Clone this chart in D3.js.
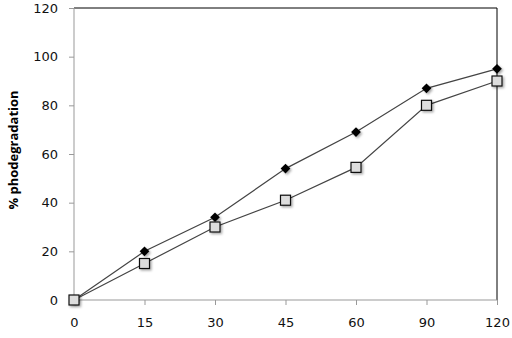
<!DOCTYPE html>
<html>
<head>
<meta charset="utf-8">
<script src="https://cdn.jsdelivr.net/npm/d3@7"></script>
<style>
	body { margin: 0; background: #fff; }
	text { font-family: 'DejaVu Sans', sans-serif; }
</style>
</head>
<body>
<svg id="chart" width="512" height="338"></svg>
<script>
const times = ['0', '15', '30', '45', '60', '90', '120']
const diamondSeries = [0, 20, 34, 54, 69, 87, 95]
const squareSeries = [0, 15, 30, 41, 54.5, 80, 90]
const yTicks = [0, 20, 40, 60, 80, 100, 120]

const margin = { top: 8, right: 15, bottom: 38, left: 74 }
const width = 512 - margin.left - margin.right
const height = 338 - margin.top - margin.bottom

const svg = d3.select('#chart')
const g = svg.append('g')
	.attr('transform', `translate(${margin.left},${margin.top})`)

const x = d3.scalePoint()
	.domain(times)
	.range([0, width])
	.padding(0)

const y = d3.scaleLinear()
	.domain([0, 120])
	.range([height, 0])

// shadow for markers
const defs = svg.append('defs')
const f = defs.append('filter').attr('id', 'shadow')
	.attr('x', '-50%').attr('y', '-50%').attr('width', '200%').attr('height', '200%')
f.append('feDropShadow')
	.attr('dx', 1.5).attr('dy', 1.5).attr('stdDeviation', 1)
	.attr('flood-color', '#000').attr('flood-opacity', 0.35)

// frame: top and right in black
g.append('line')
	.attr('x1', 0).attr('x2', width).attr('y1', 0).attr('y2', 0)
	.attr('stroke', '#000')
g.append('line')
	.attr('x1', width).attr('x2', width).attr('y1', 0).attr('y2', height)
	.attr('stroke', '#000')

const yAxis = g.append('g')
	.call(d3.axisLeft(y).tickValues(yTicks).tickSize(5).tickPadding(11))
yAxis.select('.domain').attr('stroke', '#999').attr('d', `M0,0V${height}`)
yAxis.selectAll('.tick line').attr('stroke', '#999')
yAxis.selectAll('text').attr('font-size', 13).attr('fill', '#111')
	.style('font-family', "'DejaVu Sans', sans-serif")

const xAxis = g.append('g')
	.attr('transform', `translate(0,${height})`)
	.call(d3.axisBottom(x).tickSize(5).tickPadding(13))
xAxis.select('.domain').attr('stroke', '#999').attr('d', `M0,0H${width}`)
xAxis.selectAll('.tick line').attr('stroke', '#999')
xAxis.selectAll('text').attr('font-size', 13).attr('fill', '#111')
	.style('font-family', "'DejaVu Sans', sans-serif")

g.append('text')
	.attr('transform', `translate(${13 - margin.left},${150 - margin.top}) rotate(-90)`)
	.attr('text-anchor', 'middle')
	.attr('dominant-baseline', 'central')
	.attr('font-size', 13)
	.attr('font-weight', 'bold')
	.style('font-family', "'Open Sans', sans-serif")
	.text('% phodegradation')

const line = d3.line()
	.x((d, i) => x(times[i]))
	.y((d) => y(d))

g.append('path')
	.datum(diamondSeries)
	.attr('d', line)
	.attr('fill', 'none')
	.attr('stroke', '#444')
	.attr('stroke-width', 1.2)

g.append('path')
	.datum(squareSeries)
	.attr('d', line)
	.attr('fill', 'none')
	.attr('stroke', '#444')
	.attr('stroke-width', 1.2)

const diamond = d3.symbol().type(d3.symbolDiamond2).size(60)

g.selectAll('.diamond')
	.data(diamondSeries)
	.join('path')
		.attr('class', 'diamond')
		.attr('d', diamond)
		.attr('transform', (d, i) => `translate(${x(times[i])},${y(d)})`)
		.attr('fill', '#000')
		.attr('filter', 'url(#shadow)')

g.selectAll('.square')
	.data(squareSeries)
	.join('rect')
		.attr('class', 'square')
		.attr('x', (d, i) => x(times[i]) - 5)
		.attr('y', (d) => y(d) - 5)
		.attr('width', 10)
		.attr('height', 10)
		.attr('fill', '#ddd')
		.attr('stroke', '#111')
		.attr('stroke-width', 1.2)
		.attr('filter', 'url(#shadow)')
</script>
</body>
</html>
